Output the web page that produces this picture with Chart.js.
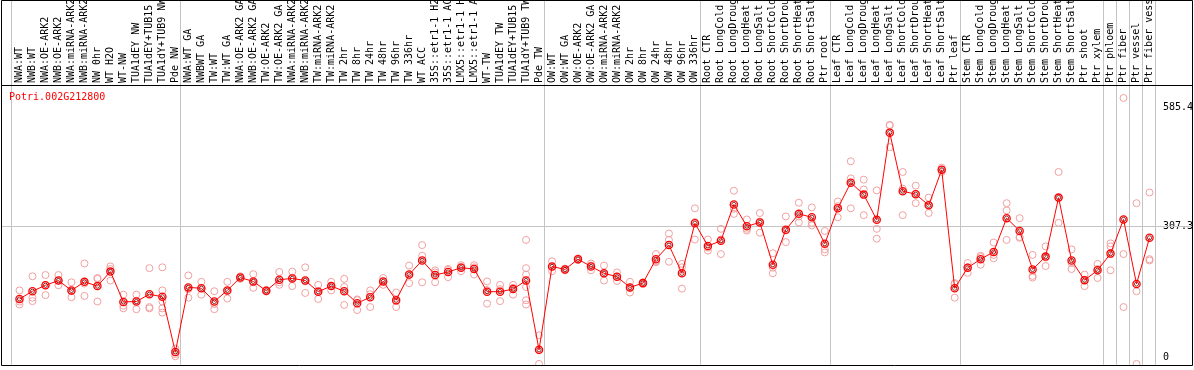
<!DOCTYPE html>
<html>
<head>
<meta charset="utf-8">
<script src="https://cdn.jsdelivr.net/npm/chart.js@4/dist/chart.umd.min.js"></script>
<style>
  body { margin: 0; background: #fff; }
</style>
</head>
<body>
<canvas id="expr" width="1194" height="370"></canvas>
<script>
var geneName = "Potri.002G212800";

var categories = [
    "NWA:WT","NWB:WT","NWA:OE-ARK2","NWB:OE-ARK2","NWA:miRNA-ARK2","NWB:miRNA-ARK2","NW 0hr","WT H2O","WT-NW",
    "TUA1dEY NW","TUA1dEY+TUB15 NW","TUA1dY+TUB9 NW","Pde NW",
    "NWA:WT GA","NWBWT GA","TW:WT","TW:WT GA","NWA:OE-ARK2 GA","NWB:OE-ARK2 GA","TW:OE-ARK2","TW:OE-ARK2 GA",
    "NWA:miRNA-ARK2","NWB:miRNA-ARK2","TW:miRNA-ARK2","TW:miRNA-ARK2","TW 2hr","TW 8hr","TW 24hr","TW 48hr","TW 96hr","TW 336hr",
    "WT ACC","35S::etr1-1 H2O","35S::etr1-1 ACC","LMX5::etr1-1 H2O","LMX5::etr1-1 ACC","WT-TW","TUA1dEY TW","TUA1dEY+TUB15 TW","TUA1dY+TUB9 TW","Pde TW",
    "OW:WT","OW:WT GA","OW:OE-ARK2","OW:OE-ARK2 GA","OW:miRNA-ARK2","OW:miRNA-ARK2","OW 2hr","OW 8hr","OW 24hr","OW 48hr","OW 96hr","OW 336hr",
    "Root CTR","Root LongCold","Root LongDrought","Root LongHeat","Root LongSalt","Root ShortCold","Root ShortDrought","Root ShortHeat","Root ShortSalt","Ptr root",
    "Leaf CTR","Leaf LongCold","Leaf LongDrought","Leaf LongHeat","Leaf LongSalt","Leaf ShortCold","Leaf ShortDrought","Leaf ShortHeat","Leaf ShortSalt","Ptr leaf",
    "Stem CTR","Stem LongCold","Stem LongDrought","Stem LongHeat","Stem LongSalt","Stem ShortCold","Stem ShortDrought","Stem ShortHeat","Stem ShortSalt",
    "Ptr shoot","Ptr xylem","Ptr phloem","Ptr fiber","Ptr vessel","Ptr fiber vessel"
];

// mean expression per sample
var means = [
    137,155,169,180,157,177,167,201,130,131,148,142,13,
    164,162,131,157,187,178,156,182,185,180,154,167,155,127,141,178,134,194,227,193,200,210,207,154,154,160,180,18,
    213,206,230,213,197,189,164,174,230,263,197,314,
    261,273,358,307,316,217,299,336,328,266,
    349,409,381,322,526,389,382,356,439,162,
    210,230,247,326,296,206,236,374,227,181,204,243,323,172,280
];

// individual replicates per sample
var replicates = [
    [157,131,124],[190,140,132],[193,169,146],[193,180,169],[176,155,141],[220,173,144],[186,184,131],[213,207,180],
    [147,121,115],[147,133,113],[209,118,115],[211,157,131,115,105],[21,8,3],
    [192,160,140],[177,162,147],[155,125,113],[177,156,138],[190,187,184],[195,176,163],[158,156,154],[200,176,170],
    [201,187,167],[211,178,151],[170,155,137],[177,167,157],[184,165,123],[136,134,111],[157,148,118],[186,178,170],
    [152,132,118],[215,193,174],[263,238,176],[204,199,176],[207,205,188],[216,212,202],[216,211,194],[178,158,126],
    [170,160,132],[170,163,147],[275,209,194,165,134,124],[52,17,-15],
    [225,212,202],[208,206,204],[232,230,228],[220,215,204],[215,196,180],[199,189,179],[177,163,152],[176,174,172],
    [242,225,223],[290,275,224],[219,211,161],[349,317,276],
    [276,257,250],[301,276,242],[390,348,336],[323,301,297],[338,318,292],[244,210,197],[330,297,270],[362,330,316],
    [351,315,309],[296,253,246],
    [365,354,328],[459,419,349],[416,393,333],[391,301,278],[544,543,492],[434,395,333],[402,383,361],[374,356,338],
    [444,439,434],[174,172,140],
    [221,211,198],[238,235,217],[269,240,232],[361,344,275],[326,282,280],[240,191,187],[260,234,214],[434,373,315],
    [253,221,207],[194,182,167],[219,207,186],[267,260,204],[607,242,118],[361,155,-15],[386,230,227]
];

var yTicks = [0, 307.3, 585.4];

// first sample of each group (separator drawn before it)
var groupStarts = [0, 13, 41, 53, 63, 73, 84, 85, 86, 87];

var monoFont = { family: "'DejaVu Sans Mono', monospace", size: 10 };

var meanPoints = means.map(function (v, i) { return { x: i, y: v }; });
var repPoints = [];
replicates.forEach(function (list, i) {
    list.forEach(function (v) { repPoints.push({ x: i, y: v }); });
});

var framePlugin = {
    id: 'frame',
    beforeDatasetsDraw: function (chart) {
        var ctx = chart.ctx;
        var xs = chart.scales.x;
        var ys = chart.scales.y;
        var area = chart.chartArea;
        ctx.save();
        ctx.lineWidth = 1;
        ctx.strokeStyle = '#c4c4c4';
        ctx.beginPath();
        var gy = Math.round(ys.getPixelForValue(yTicks[1])) + 0.5;
        ctx.moveTo(1, gy);
        ctx.lineTo(1193, gy);
        groupStarts.forEach(function (i) {
            var px = Math.round(xs.getPixelForValue(i) - 8) + 0.5;
            ctx.moveTo(px, 0);
            ctx.lineTo(px, area.bottom);
        });
        var rx = Math.round(area.right) - 0.5;
        ctx.moveTo(rx, 0);
        ctx.lineTo(rx, area.bottom);
        ctx.stroke();

        ctx.strokeStyle = '#000';
        ctx.beginPath();
        ctx.rect(1.5, 0.5, 1191, Math.round(area.bottom));
        ctx.moveTo(1, Math.round(area.top) + 0.5);
        ctx.lineTo(1193, Math.round(area.top) + 0.5);
        ctx.stroke();

        ctx.fillStyle = '#ff0000';
        ctx.font = "10px 'DejaVu Sans Mono', monospace";
        ctx.textBaseline = 'middle';
        ctx.fillText(geneName, 9, area.top + 12);
        ctx.restore();
    }
};

var ctx = document.getElementById("expr");

var exprChart = new Chart(ctx, {
    type: 'line',
    data: {
        datasets: [
            {
                label: "mean",
                data: meanPoints,
                borderColor: "#ff0000",
                borderWidth: 1,
                pointRadius: 3.6,
                pointBorderWidth: 1.3,
                pointBorderColor: "#ff0000",
                pointBackgroundColor: "rgba(0,0,0,0)"
            },
            {
                label: "mean inner",
                data: meanPoints,
                showLine: false,
                pointRadius: 2.1,
                pointBorderWidth: 0.8,
                pointBorderColor: "#700000",
                pointBackgroundColor: "rgba(0,0,0,0)"
            },
            {
                label: "replicates",
                data: repPoints,
                showLine: false,
                pointRadius: 3.5,
                pointBorderWidth: 1,
                pointBorderColor: "#f0a0a0",
                pointBackgroundColor: "rgba(0,0,0,0)"
            }
        ]
    },
    options: {
        responsive: false,
        devicePixelRatio: 1,
        animation: false,
        layout: { padding: { left: 13, right: 0, top: 0, bottom: 1 } },
        plugins: {
            legend: { display: false },
            tooltip: { enabled: false }
        },
        scales: {
            x: {
                type: 'linear',
                position: 'top',
                min: -0.5,
                max: categories.length - 0.5,
                grid: { display: false, drawTicks: false },
                border: { display: false },
                afterBuildTicks: function (scale) {
                    scale.ticks = categories.map(function (c, i) { return { value: i }; });
                },
                afterFit: function (scale) {
                    scale.height = 85;
                    scale.paddingLeft = 0;
                    scale.paddingRight = 0;
                },
                ticks: {
                    autoSkip: false,
                    minRotation: 90,
                    maxRotation: 90,
                    padding: 2,
                    labelOffset: 12,
                    color: "#000",
                    font: monoFont,
                    callback: function (v) { return categories[v]; }
                }
            },
            y: {
                position: 'right',
                min: -16.8,
                max: 637.4,
                grid: { display: false, drawTicks: false },
                border: { display: false },
                afterBuildTicks: function (scale) {
                    scale.ticks = yTicks.map(function (v) { return { value: v }; });
                },
                afterFit: function (scale) {
                    scale.width = 38;
                    scale.paddingTop = 0;
                    scale.paddingBottom = 0;
                },
                ticks: {
                    padding: 7,
                    color: "#000",
                    font: monoFont,
                    callback: function (v) { return String(v); }
                }
            }
        }
    },
    plugins: [framePlugin]
});
</script>
</body>
</html>
